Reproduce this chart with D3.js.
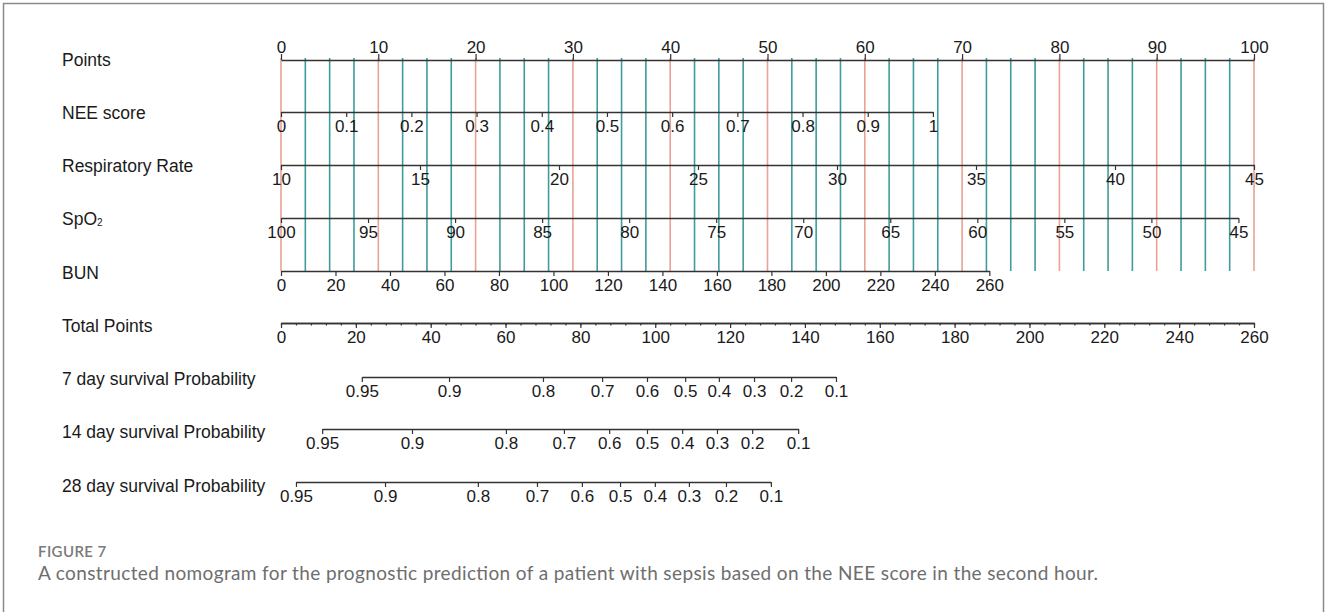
<!DOCTYPE html>
<html>
<head>
<meta charset="utf-8">
<script src="https://cdn.jsdelivr.net/npm/d3@7"></script>
<style>
  body { margin:0; background:#fff; }
  svg text { font-family: "Liberation Sans", Arial, Helvetica, sans-serif; }
  .caption { font-family: Lato, "Open Sans", sans-serif; }
</style>
</head>
<body>
<svg id="chart"></svg>
<script>
// ---- data ----
var pointsTicks = [0,10,20,30,40,50,60,70,80,90,100];

var neeTicks   = [0,0.1,0.2,0.3,0.4,0.5,0.6,0.7,0.8,0.9,1];
var neePoints  = [0,67];          // points at NEE 0 and NEE 1

var respTicks  = [10,15,20,25,30,35,40,45];
var respPoints = [0,100];

var spo2Ticks  = [100,95,90,85,80,75,70,65,60,55,50,45];
var spo2Points = [0,98.4];

var bunTicks   = [0,20,40,60,80,100,120,140,160,180,200,220,240,260];
var bunPoints  = [0,72.8];

var totalTicks = [0,20,40,60,80,100,120,140,160,180,200,220,240,260];

var probLabels = ["0.95","0.9","0.8","0.7","0.6","0.5","0.4","0.3","0.2","0.1"];
// total points where each survival probability sits
var day7Total  = [21.6,44.9,70.0,85.8,97.8,108.0,117.0,126.4,136.3,148.3];
var day14Total = [11.0,35.0,60.1,75.6,87.7,97.8,107.2,116.5,125.9,138.2];
var day28Total = [4.0,27.8,52.6,68.4,80.4,90.6,99.9,109.0,118.9,130.9];

var screen = {width:1327, height:612};

var svg = d3.select("#chart")
    .attr("width",screen.width)
    .attr("height",screen.height);

// frame
svg.append("rect")
    .attr("x",3.5).attr("y",3.5)
    .attr("width",1320).attr("height",700)
    .attr("fill","none")
    .attr("stroke","#8a8a8a")
    .attr("stroke-width",1.5);

var xPts = d3.scaleLinear().domain([0,100]).range([281,1254]);
var xTot = d3.scaleLinear().domain([0,260]).range([281,1254]);

var rows = {
    points:60, nee:112, resp:165, spo2:218, bun:271,
    total:323, d7:377, d14:429, d28:482
};

// vertical guide lines every 2.5 points
var grid = d3.range(0,100.01,2.5);
svg.append("g").selectAll("line")
    .data(grid)
    .enter()
    .append("line")
    .attr("x1",function(d){return xPts(d);})
    .attr("x2",function(d){return xPts(d);})
    .attr("y1",rows.points-2)
    .attr("y2",rows.bun)
    .attr("stroke",function(d){return d%10==0 ? "#e9a295" : "#3f9c9c";})
    .attr("stroke-width",1.6);

var styleAxis = function(g,size)
{
    g.select(".domain").attr("stroke","#333").attr("stroke-width",1.4);
    g.selectAll(".tick line").attr("stroke","#333").attr("stroke-width",1.2);
    g.selectAll(".tick text")
        .attr("fill","#1a1a1a")
        .style("font-size",size+"px")
        .style("font-family","'Liberation Sans', Arial, sans-serif");
}

// Points axis (labels on top)
var pointsAxis = d3.axisTop(xPts)
    .tickValues(pointsTicks)
    .tickSize(6)
    .tickSizeOuter(0)
    .tickPadding(1);
svg.append("g")
    .attr("transform","translate(0,"+rows.points+")")
    .call(pointsAxis)
    .call(styleAxis,17);

// predictor axes
var drawVar = function(ticks,pts,y,fmt)
{
    var lo = ticks[0], hi = ticks[ticks.length-1];
    var sc = d3.scaleLinear()
        .domain([lo,hi])
        .range([xPts(pts[0]),xPts(pts[1])]);
    var ax = d3.axisBottom(sc)
        .tickValues(ticks)
        .tickSize(5)
        .tickSizeOuter(0)
        .tickPadding(3)
        .tickFormat(fmt);
    svg.append("g")
        .attr("transform","translate(0,"+y+")")
        .call(ax)
        .call(styleAxis,17);
}

drawVar(neeTicks,neePoints,rows.nee,function(d){return d3.format("")(+d.toFixed(1));});
drawVar(respTicks,respPoints,rows.resp,d3.format("d"));
drawVar(spo2Ticks,spo2Points,rows.spo2,d3.format("d"));
drawVar(bunTicks,bunPoints,rows.bun,d3.format("d"));

// Total points axis with minor ticks
var minor = d3.range(0,261,4);
svg.append("g")
    .attr("transform","translate(0,"+rows.total+")")
    .call(d3.axisBottom(xTot).tickValues(minor).tickSize(2.5).tickSizeOuter(0).tickFormat(""))
    .call(styleAxis,17);
svg.append("g")
    .attr("transform","translate(0,"+rows.total+")")
    .call(d3.axisBottom(xTot).tickValues(totalTicks).tickSize(5).tickSizeOuter(0).tickPadding(3))
    .call(styleAxis,17);

// survival probability axes
var drawProb = function(tot,y)
{
    var sc = d3.scaleLinear()
        .domain([tot[0],tot[tot.length-1]])
        .range([xTot(tot[0]),xTot(tot[tot.length-1])]);
    var ax = d3.axisBottom(sc)
        .tickValues(tot)
        .tickSize(5)
        .tickSizeOuter(0)
        .tickPadding(3)
        .tickFormat(function(d,i){return probLabels[i];});
    svg.append("g")
        .attr("transform","translate(0,"+y+")")
        .call(ax)
        .call(styleAxis,17);
}
drawProb(day7Total,rows.d7);
drawProb(day14Total,rows.d14);
drawProb(day28Total,rows.d28);

// row labels
var labels = [
    {t:"Points", y:rows.points+6},
    {t:"NEE score", y:rows.nee+7},
    {t:"Respiratory Rate", y:rows.resp+7},
    {t:"SpO", sub:"2", y:rows.spo2+7},
    {t:"BUN", y:rows.bun+8},
    {t:"Total Points", y:rows.total+9},
    {t:"7 day survival Probability", y:rows.d7+8},
    {t:"14 day survival Probability", y:rows.d14+9},
    {t:"28 day survival Probability", y:rows.d28+10}
];
var lab = svg.append("g").selectAll("text")
    .data(labels)
    .enter()
    .append("text")
    .attr("x",62)
    .attr("y",function(d){return d.y;})
    .attr("fill","#1a1a1a")
    .style("font-size","17.5px");
lab.append("tspan").text(function(d){return d.t;});
lab.filter(function(d){return d.sub;})
    .append("tspan")
    .attr("dy",1)
    .style("font-size","10px")
    .text(function(d){return d.sub;});

// caption
svg.append("text")
    .attr("class","caption")
    .attr("x",38).attr("y",557)
    .attr("fill","#7a7a7a")
    .style("font-size","15px")
    .style("font-weight","600")
    .style("letter-spacing","0.4px")
    .text("FIGURE 7");
svg.append("text")
    .attr("class","caption")
    .attr("x",38).attr("y",580)
    .attr("fill","#6e6e6e")
    .style("font-size","19px")
    .attr("textLength",1060)
    .attr("lengthAdjust","spacing")
    .text("A constructed nomogram for the prognostic prediction of a patient with sepsis based on the NEE score in the second hour.");
</script>
</body>
</html>
